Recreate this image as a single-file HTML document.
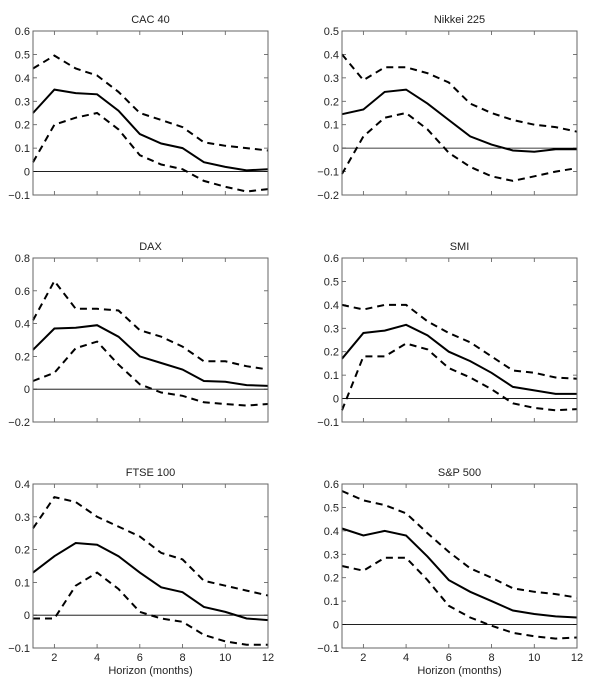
<!DOCTYPE html>
<html><head><meta charset="utf-8"><style>
body{margin:0;background:#fff;width:600px;height:685px;overflow:hidden}
svg{display:block}
text{font-family:"Liberation Sans",Arial,sans-serif;fill:#222}
</style></head><body>
<svg id="fig" width="600" height="685"></svg>
<script>
const horizons=[1,2,3,4,5,6,7,8,9,10,11,12];
const titles=["CAC 40","Nikkei 225","DAX","SMI","FTSE 100","S&P 500"];
const cacMean=[0.25,0.35,0.335,0.33,0.26,0.16,0.12,0.10,0.04,0.02,0.005,0.01];
const cacUpper=[0.44,0.495,0.44,0.41,0.34,0.25,0.22,0.19,0.125,0.11,0.10,0.09];
const cacLower=[0.04,0.20,0.23,0.25,0.18,0.07,0.03,0.01,-0.04,-0.065,-0.085,-0.075];
const nikMean=[0.145,0.165,0.24,0.25,0.19,0.12,0.05,0.015,-0.01,-0.015,-0.005,-0.005];
const nikUpper=[0.40,0.29,0.345,0.345,0.32,0.28,0.19,0.15,0.12,0.10,0.09,0.07];
const nikLower=[-0.11,0.05,0.13,0.15,0.08,-0.02,-0.08,-0.12,-0.14,-0.12,-0.10,-0.085];
const daxMean=[0.24,0.37,0.375,0.39,0.32,0.20,0.16,0.12,0.05,0.045,0.025,0.02];
const daxUpper=[0.42,0.66,0.49,0.49,0.48,0.36,0.32,0.26,0.17,0.17,0.14,0.12];
const daxLower=[0.05,0.10,0.25,0.29,0.15,0.03,-0.02,-0.04,-0.08,-0.09,-0.10,-0.09];
const smiMean=[0.17,0.28,0.29,0.315,0.27,0.20,0.16,0.11,0.05,0.035,0.02,0.02];
const smiUpper=[0.40,0.38,0.40,0.40,0.33,0.28,0.24,0.18,0.12,0.11,0.09,0.085];
const smiLower=[-0.05,0.18,0.18,0.235,0.21,0.13,0.09,0.04,-0.02,-0.04,-0.05,-0.045];
const ftseMean=[0.13,0.18,0.22,0.215,0.18,0.13,0.085,0.07,0.025,0.01,-0.01,-0.015];
const ftseUpper=[0.265,0.36,0.345,0.30,0.27,0.24,0.19,0.17,0.105,0.09,0.075,0.06];
const ftseLower=[-0.01,-0.01,0.09,0.13,0.08,0.01,-0.01,-0.02,-0.06,-0.08,-0.09,-0.09];
const spMean=[0.41,0.38,0.40,0.38,0.29,0.19,0.14,0.10,0.06,0.045,0.035,0.03];
const spUpper=[0.57,0.53,0.51,0.475,0.39,0.31,0.24,0.20,0.155,0.14,0.13,0.115];
const spLower=[0.25,0.23,0.285,0.285,0.19,0.08,0.03,-0.005,-0.035,-0.05,-0.06,-0.055];
const yTicksCAC=[-0.1,0,0.1,0.2,0.3,0.4,0.5,0.6];
const yTicksNik=[-0.2,-0.1,0,0.1,0.2,0.3,0.4,0.5];
const yTicksDAX=[-0.2,0,0.2,0.4,0.6,0.8];
const yTicksSMI=[-0.1,0,0.1,0.2,0.3,0.4,0.5,0.6];
const yTicksFTSE=[-0.1,0,0.1,0.2,0.3,0.4];
const yTicksSP=[-0.1,0,0.1,0.2,0.3,0.4,0.5,0.6];
const xTicks=[2,4,6,8,10,12];

const NS="http://www.w3.org/2000/svg";
const svg=document.getElementById('fig');
function mk(tag,attrs,parent){const e=document.createElementNS(NS,tag);for(const k in attrs)e.setAttribute(k,attrs[k]);(parent||svg).appendChild(e);return e;}
const panels=[
 {t:0,m:cacMean,u:cacUpper,l:cacLower,yt:yTicksCAC,col:0,row:0},
 {t:1,m:nikMean,u:nikUpper,l:nikLower,yt:yTicksNik,col:1,row:0},
 {t:2,m:daxMean,u:daxUpper,l:daxLower,yt:yTicksDAX,col:0,row:1},
 {t:3,m:smiMean,u:smiUpper,l:smiLower,yt:yTicksSMI,col:1,row:1},
 {t:4,m:ftseMean,u:ftseUpper,l:ftseLower,yt:yTicksFTSE,col:0,row:2},
 {t:5,m:spMean,u:spUpper,l:spLower,yt:yTicksSP,col:1,row:2}];
const X0=[33,342],W=235,Y0=[31,258,484],H=164;
const fmt=v=>{let s=(Math.round(v*10)/10).toString();return s.replace('-','\u2212');};
panels.forEach(p=>{
 const x0=X0[p.col],y0=Y0[p.row];
 const ymin=p.yt[0],ymax=p.yt[p.yt.length-1];
 const sx=h=>x0+(h-1)/11*W, sy=v=>y0+H-(v-ymin)/(ymax-ymin)*H;
 const g=mk('g',{});
 
 
 const t=mk('text',{x:x0+W/2,y:y0-8,'text-anchor':'middle','font-size':11},g);
 t.textContent=titles[p.t];
 
 
 p.yt.forEach(v=>{
  const y=sy(v);
  mk('line',{x1:x0,x2:x0+4,y1:y,y2:y,stroke:'#555','stroke-width':0.8},g);
  mk('line',{x1:x0+W,x2:x0+W-4,y1:y,y2:y,stroke:'#555','stroke-width':0.8},g);
  const lb=mk('text',{x:x0-3,y:y+4,'text-anchor':'end','font-size':11},g);
  lb.textContent=fmt(v);
  
  
 });
 xTicks.forEach(h=>{
  const x=sx(h);
  mk('line',{x1:x,x2:x,y1:y0+H,y2:y0+H-4,stroke:'#555','stroke-width':0.8},g);
  mk('line',{x1:x,x2:x,y1:y0,y2:y0+4,stroke:'#555','stroke-width':0.8},g);
  if(p.row===2){const lb=mk('text',{x:x,y:y0+H+13,'text-anchor':'middle','font-size':11},g);
   lb.textContent=h;
   
   }
 });
 const zl=mk('line',{x1:x0,x2:x0+W,y1:sy(0),y2:sy(0),stroke:'#000','stroke-width':0.8},g);
 
 
 const pts=arr=>arr.map((v,i)=>sx(horizons[i]).toFixed(1)+','+sy(v).toFixed(1)).join(' ');
 const up=mk('polyline',{points:pts(p.u),fill:'none',stroke:'#000','stroke-width':2,'stroke-dasharray':'7,5'},g);
 
 
 const lo=mk('polyline',{points:pts(p.l),fill:'none',stroke:'#000','stroke-width':2,'stroke-dasharray':'7,5'},g);
 
 
 const mn=mk('polyline',{points:pts(p.m),fill:'none',stroke:'#000','stroke-width':2},g);
 
 
 const box=mk('rect',{x:x0,y:y0,width:W,height:H,fill:'none',stroke:'#666','stroke-width':1},g);
 
 
 if(p.row===2){const xl=mk('text',{x:x0+W/2,y:y0+H+26,'text-anchor':'middle','font-size':11},g);
  xl.textContent='Horizon (months)';
  
  }
});
</script>
</body></html>
